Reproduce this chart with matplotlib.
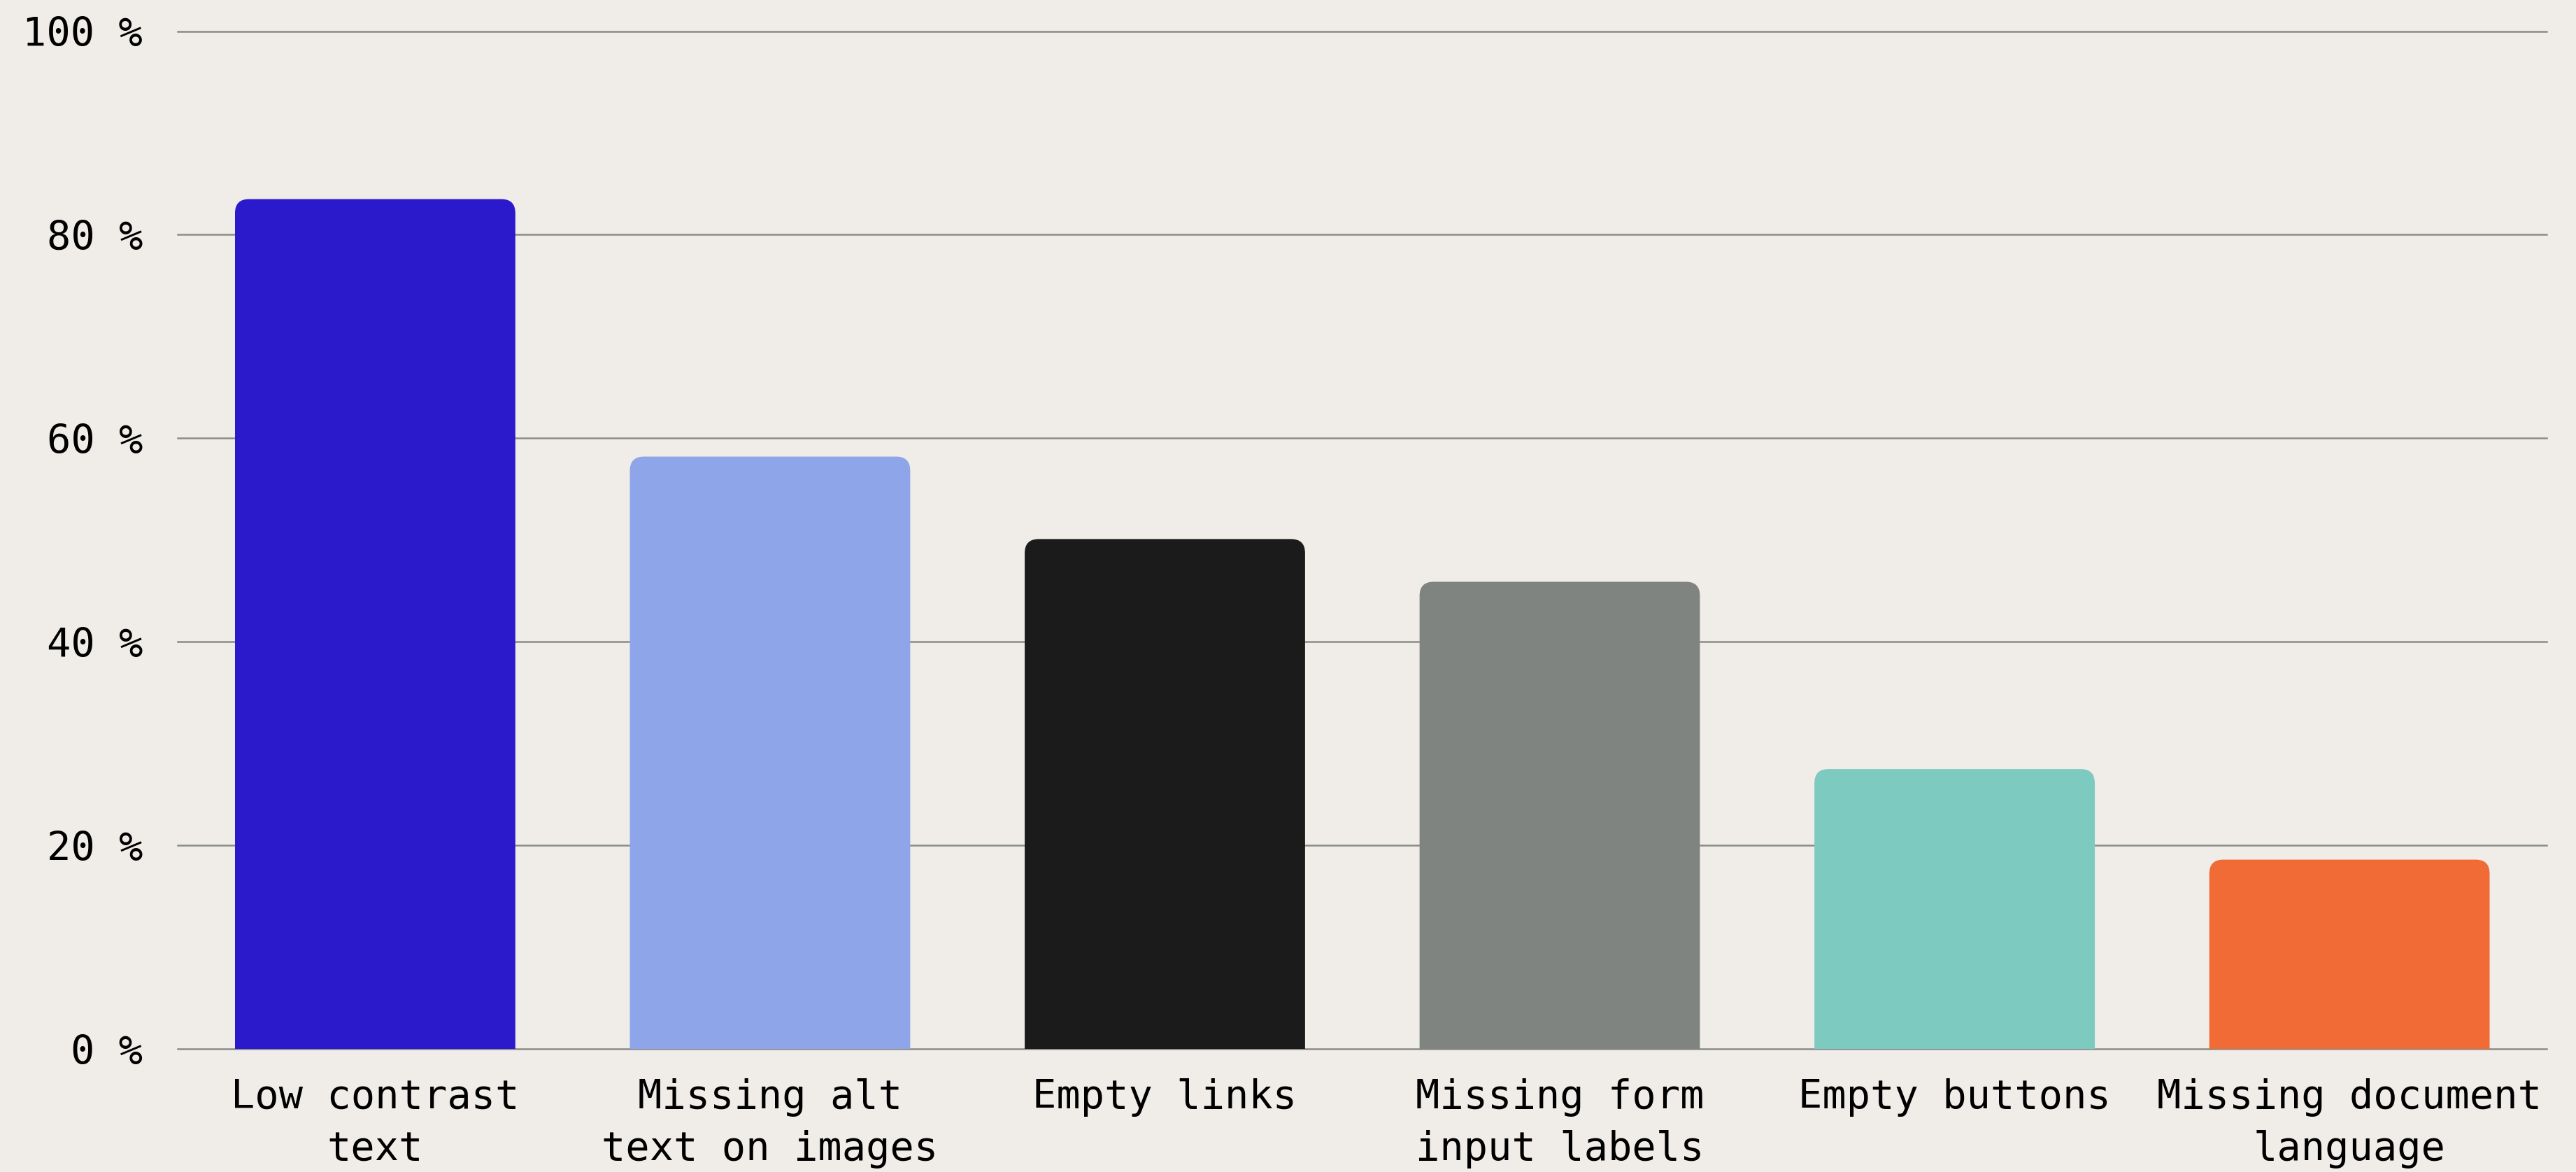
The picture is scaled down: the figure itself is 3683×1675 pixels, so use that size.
import matplotlib
matplotlib.use("Agg")
import matplotlib.pyplot as plt
from matplotlib.patches import FancyBboxPatch

categories = ["Low contrast\ntext", "Missing alt\ntext on images", "Empty links",
              "Missing form\ninput labels", "Empty buttons", "Missing document\nlanguage"]
values = [83.5, 58.2, 50.1, 45.9, 27.5, 18.6]
colors = ["#2B1ACB", "#8FA5E9", "#1B1B1B", "#808480", "#7DCAC0", "#F06B36"]
yticks = [0, 20, 40, 60, 80, 100]
ytick_labels = ["%d %%" % t for t in yticks]

bg = "#F0EDE8"
plt.rcParams['font.family'] = ['DejaVu Sans Mono']

fig = plt.figure(figsize=(36.83, 16.75), dpi=100, facecolor=bg)
ax = fig.add_axes([0.069, 0.105, 0.9197, 0.8684])
ax.set_facecolor(bg)
ax.set_xlim(-0.5, len(categories) - 0.5)
ax.set_ylim(0, 100)

# horizontal rules behind the bars
for t in yticks:
    ax.axhline(t, color="#8A8C88", linewidth=1.8, zorder=1, clip_on=False)

width = 0.71
# px per data unit, to keep the corner round
xpx = ax.get_position().width * fig.get_figwidth() * fig.dpi / len(categories)
ypx = ax.get_position().height * fig.get_figheight() * fig.dpi / 100.0
r = 20.0 / xpx
ry = 20.0 / ypx
for i, (v, c) in enumerate(zip(values, colors)):
    # start below zero so the bottom corners get clipped square by the axes
    box = FancyBboxPatch((i - width / 2, -2 * ry), width, v + 2 * ry,
                         boxstyle="round,pad=0,rounding_size=%f" % r,
                         mutation_aspect=xpx / ypx,
                         facecolor=c, edgecolor="none", zorder=2)
    ax.add_patch(box)

ax.set_xticks(range(len(categories)))
ax.set_xticklabels(categories, fontsize=41, linespacing=1.45)
ax.set_yticks(yticks)
ax.set_yticklabels(ytick_labels, fontsize=41)
ax.tick_params(axis="x", length=0, pad=30)
ax.tick_params(axis="y", length=0, pad=36)
for s in ax.spines.values():
    s.set_visible(False)

fig.savefig("out.png", dpi=100, facecolor=bg)
